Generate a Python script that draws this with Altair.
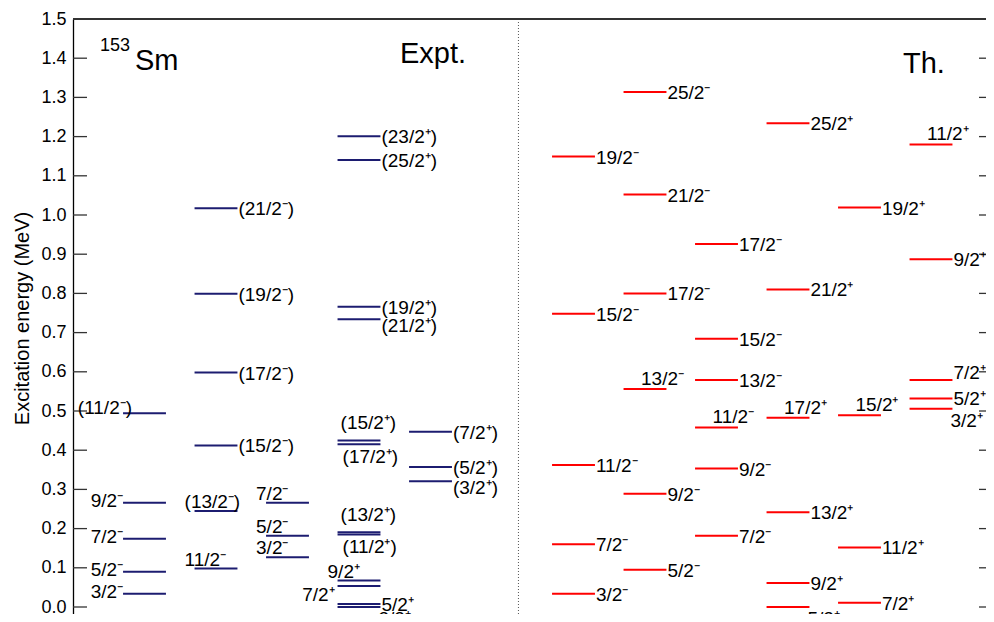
import altair as alt
import pandas as pd

FONT = "Liberation Sans"

# ---------------- Experimental levels (153Sm) ----------------
expt_col = [1, 1, 1, 1, 1,
            2, 2, 2, 2, 2, 2,
            3, 3, 3,
            4, 4, 4, 4, 4, 4, 4, 4, 4, 4, 4, 4,
            5, 5, 5]
expt_energy = [0.034, 0.090, 0.174, 0.266, 0.494,
               0.098, 0.245, 0.412, 0.598, 0.799, 1.017,
               0.127, 0.182, 0.266,
               0.000, 0.0075, 0.0535, 0.0675, 0.185, 0.191, 0.415, 0.425, 0.734, 0.766, 1.140, 1.201,
               0.321, 0.357, 0.447]
expt_label = ["3/2⁻", "5/2⁻", "7/2⁻", "9/2⁻", "(11/2⁻)",
              "11/2⁻", "(13/2⁻)", "(15/2⁻)", "(17/2⁻)", "(19/2⁻)", "(21/2⁻)",
              "3/2⁻", "5/2⁻", "7/2⁻",
              "3/2⁺", "5/2⁺", "7/2⁺", "9/2⁺", "(11/2⁺)", "(13/2⁺)", "(17/2⁺)", "(15/2⁺)",
              "(21/2⁺)", "(19/2⁺)", "(25/2⁺)", "(23/2⁺)",
              "(3/2⁺)", "(5/2⁺)", "(7/2⁺)"]
expt_place = ["l", "l", "l", "l", "lo",
              "al", "al", "r", "r", "r", "r",
              "al", "al", "al",
              "rb", "r", "lb", "al", "b", "ac", "b", "ac", "rl", "r", "r", "r",
              "rl", "r", "r"]

# ---------------- Theoretical levels ----------------
th_col = [7, 7, 7, 7, 7,
          8, 8, 8, 8, 8, 8,
          9, 9, 9, 9, 9, 9,
          10, 10, 10, 10, 10, 10,
          11, 11, 11, 11,
          12, 12, 12, 12, 12]
th_energy = [0.034, 0.160, 0.362, 0.748, 1.149,
             0.095, 0.289, 0.556, 0.800, 1.052, 1.314,
             0.182, 0.353, 0.458, 0.579, 0.684, 0.926,
             0.000, 0.061, 0.242, 0.483, 0.810, 1.234,
             0.011, 0.152, 0.489, 1.019,
             0.506, 0.532, 0.579, 0.887, 1.180]
th_label = ["3/2⁻", "7/2⁻", "11/2⁻", "15/2⁻", "19/2⁻",
            "5/2⁻", "9/2⁻", "13/2⁻", "17/2⁻", "21/2⁻", "25/2⁻",
            "7/2⁻", "9/2⁻", "11/2⁻", "13/2⁻", "15/2⁻", "17/2⁻",
            "5/2⁺", "9/2⁺", "13/2⁺", "17/2⁺", "21/2⁺", "25/2⁺",
            "7/2⁺", "11/2⁺", "15/2⁺", "19/2⁺",
            "3/2⁺", "5/2⁺", "7/2⁺", "9/2⁺", "11/2⁺"]
th_place = ["r", "r", "r", "r", "r",
            "r", "r", "a", "r", "r", "r",
            "r", "r", "a", "r", "r", "r",
            "rb", "r", "r", "a", "r", "r",
            "r", "r", "a", "r",
            "rb", "r", "rr", "r", "a"]

y_ticks = [0.0, 0.1, 0.2, 0.3, 0.4, 0.5, 0.6, 0.7, 0.8, 0.9, 1.0, 1.1, 1.2, 1.3, 1.4, 1.5]

levels = pd.DataFrame({
    "col": expt_col + th_col,
    "energy": expt_energy + th_energy,
    "label": expt_label + th_label,
    "place": expt_place + th_place,
    "group": ["Expt."] * len(expt_col) + ["Th."] * len(th_col),
})
ticks_df = pd.DataFrame({"energy": y_ticks})
one = pd.DataFrame({"k": [0]})

W = 913
H = 595
PX_PER_COL = 71.5
PX_PER_MEV = 392.0

x_scale = alt.Scale(domain=[0, W / PX_PER_COL], nice=False, zero=False)
y_scale = alt.Scale(domain=[1.5 - H / PX_PER_MEV, 1.5], nice=False, zero=False)
y_axis = alt.Axis(values=y_ticks, format=".1f", ticks=False, grid=False,
                  labelPadding=7, labelFontSize=18, labelFont=FONT, labelColor="black",
                  domainColor="black", domainWidth=1.3,
                  title="Excitation energy (MeV)", titleFont=FONT, titleFontSize=20,
                  titleFontWeight="normal", titleColor="black", titleAngle=270,
                  titleX=-51, titleY=299, titleAlign="center", titleBaseline="middle")
y_enc = alt.Y("energy:Q", scale=y_scale, axis=y_axis)

lines = alt.Chart(levels).transform_calculate(
    x1="datum.col - 0.3", x2="datum.col + 0.3"
).mark_rule(strokeWidth=2).encode(
    x=alt.X("x1:Q", scale=x_scale, axis=None),
    x2="x2:Q",
    y=y_enc,
    color=alt.Color("group:N", scale=alt.Scale(domain=["Expt.", "Th."],
                                               range=["#1c1c70", "#ff0000"]), legend=None),
)

placements = {
    "r": (0.3, "left", "middle", 1, 1),
    "rl": (0.3, "left", "middle", 1, 7),
    "rr": (0.3, "left", "middle", 1, -7),
    "rb": (0.3, "left", "top", -2, 3),
    "l": (-0.3, "right", "middle", 0, -2),
    "lo": (-0.3, "right", "middle", 9, -5),
    "lb": (-0.3, "right", "middle", -3, 9),
    "a": (0.0, "left", "alphabetic", -4, -4),
    "al": (-0.3, "left", "alphabetic", -10, -3),
    "ac": (-0.3, "left", "alphabetic", 3, -11),
    "b": (-0.3, "left", "top", 5, 4),
}

label_layers = []
for name, (off, align, base, dx, dy) in placements.items():
    label_layers.append(
        alt.Chart(levels).transform_filter(
            f"datum.place == '{name}'"
        ).transform_calculate(
            xa=f"datum.col + ({off})"
        ).mark_text(align=align, baseline=base, dx=dx, dy=dy, fontSize=19,
                    font=FONT, color="black").encode(
            x=alt.X("xa:Q", scale=x_scale, axis=None),
            y=y_enc,
            text="label:N",
        )
    )

left_ticks = alt.Chart(ticks_df).mark_rule(color="#333333", strokeWidth=1.3).encode(
    y=y_enc, x=alt.value(0), x2=alt.value(14))
right_ticks = alt.Chart(ticks_df).mark_rule(color="#333333", strokeWidth=1.3).encode(
    y=y_enc, x=alt.value(W - 7), x2=alt.value(W))

top_border = alt.Chart(one).mark_rule(color="#333333", strokeWidth=2).encode(
    x=alt.value(0), x2=alt.value(W), y=alt.value(0))

divider = alt.Chart(one).mark_rule(color="#555555", strokeWidth=1, strokeDash=[1, 2]).encode(
    x=alt.X(datum=6.23, type="quantitative", scale=x_scale, axis=None),
    y=alt.value(0), y2=alt.value(H))

def note(txt, x, y, size):
    return alt.Chart(one).mark_text(align="left", baseline="alphabetic", fontSize=size,
                                    font=FONT, color="black").encode(
        x=alt.value(x), y=alt.value(y), text=alt.value(txt))

notes = [
    note("153", 27, 32, 18),
    note("Sm", 62, 51, 29),
    note("Expt.", 327, 44, 29),
    note("Th.", 830, 54, 29),
]

chart = alt.layer(
    divider, top_border, left_ticks, right_ticks, lines, *label_layers, *notes
).properties(
    width=W, height=H,
    padding={"left": 65, "top": 11, "right": 0, "bottom": 0},
    autosize=alt.AutoSizeParams(type="none"),
).configure_view(stroke=None)

chart.save("out.html", embed_options={"renderer": "svg", "actions": False})
